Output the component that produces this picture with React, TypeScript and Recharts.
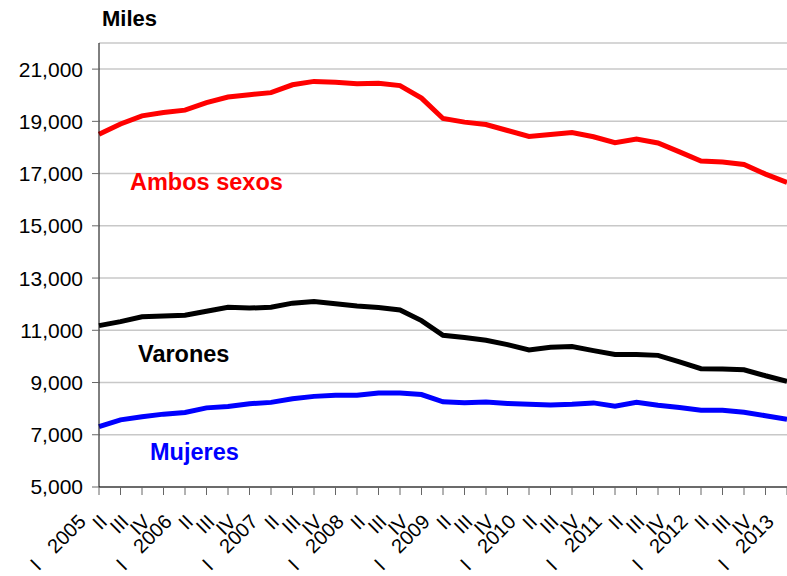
import React from 'react';
import { LineChart, Line, XAxis, YAxis, CartesianGrid } from 'recharts';

const quarters = ['I', 'II', 'III', 'IV'];
const years = [2005, 2006, 2007, 2008, 2009, 2010, 2011, 2012, 2013];

const ambosSexos = [
  18510, 18900, 19210, 19340, 19430, 19720, 19930, 20020, 20100, 20400, 20530,
  20500, 20440, 20460, 20370, 19890, 19110, 18970, 18880, 18650, 18420, 18500,
  18570, 18410, 18180, 18320, 18170, 17830, 17480, 17440, 17350, 16980, 16660,
];
const varones = [
  11180, 11330, 11520, 11550, 11580, 11730, 11880, 11850, 11880, 12040, 12100,
  12020, 11930, 11870, 11780, 11370, 10810, 10720, 10620, 10450, 10250, 10350,
  10380, 10220, 10070, 10070, 10040, 9790, 9530, 9520, 9490, 9260, 9050,
];
const mujeres = [
  7310, 7570, 7690, 7790, 7850, 8030, 8080, 8190, 8240, 8380, 8470, 8510, 8510,
  8600, 8600, 8540, 8260, 8230, 8250, 8200, 8170, 8140, 8170, 8220, 8090, 8240,
  8130, 8040, 7940, 7940, 7860, 7730, 7590,
];

const yTicks = [5000, 7000, 9000, 11000, 13000, 15000, 17000, 19000, 21000];

const data = ambosSexos.map((v, i) => ({
  quarter: quarters[i % 4],
  year: years[Math.floor(i / 4)],
  key: `${quarters[i % 4]} ${years[Math.floor(i / 4)]}`,
  ambos: v,
  varones: varones[i],
  mujeres: mujeres[i],
}));

const FONT = '"Liberation Sans", Arial, sans-serif';

const QuarterTick = (props: any) => {
  const { x, y, index } = props;
  const row = data[index];
  if (!row) return null;
  const isFirst = row.quarter === 'I';
  return (
    <g transform={`translate(${x - 12},${y + 28}) rotate(-45)`}>
      <text x={0} y={0} textAnchor="end" fontSize={20} fontFamily={FONT} fill="#000">
        {isFirst ? row.year : row.quarter}
      </text>
      {isFirst && (
        <text x={-63} y={0} textAnchor="end" fontSize={20} fontFamily={FONT} fill="#000">
          I
        </text>
      )}
    </g>
  );
};

const App: React.FC = () => {
  return (
    <div style={{ position: 'absolute', left: 0, top: 0, width: 787, height: 576, background: '#fff' }}>
      <LineChart width={787} height={576} data={data} margin={{ top: 43, right: 0, bottom: 0, left: 0 }}>
        <CartesianGrid vertical={false} stroke="#c8c8c8" strokeWidth={1.5} />
        <XAxis
          dataKey="key"
          interval={0}
          height={89}
          tickSize={8}
          tickMargin={0}
          axisLine={{ stroke: '#000' }}
          tickLine={{ stroke: '#666' }}
          tick={<QuarterTick />}
        />
        <YAxis
          width={99}
          domain={[5000, 22000]}
          ticks={yTicks}
          tickSize={7}
          tickMargin={9}
          axisLine={{ stroke: '#000' }}
          tickLine={{ stroke: '#666' }}
          tick={{ fill: '#000', fontSize: 21, fontFamily: FONT }}
          tickFormatter={(v: number) => v.toLocaleString('en-US')}
        />
        <Line type="linear" dataKey="ambos" stroke="#ff0000" strokeWidth={5} dot={false} isAnimationActive={false} />
        <Line type="linear" dataKey="varones" stroke="#000000" strokeWidth={5} dot={false} isAnimationActive={false} />
        <Line type="linear" dataKey="mujeres" stroke="#0000ff" strokeWidth={5} dot={false} isAnimationActive={false} />
      </LineChart>
      <svg width={787} height={576} style={{ position: 'absolute', left: 0, top: 0, pointerEvents: 'none' }}>
        <text x={102} y={26} fontSize={22} fontWeight="bold" fontFamily={FONT} fill="#000">Miles</text>
        <text x={130} y={190} fontSize={23.5} fontWeight="bold" fontFamily={FONT} fill="#ff0000">Ambos sexos</text>
        <text x={138} y={362} fontSize={23.5} fontWeight="bold" fontFamily={FONT} fill="#000">Varones</text>
        <text x={150} y={460} fontSize={23.5} fontWeight="bold" fontFamily={FONT} fill="#0000ff">Mujeres</text>
      </svg>
    </div>
  );
};

export default App;
